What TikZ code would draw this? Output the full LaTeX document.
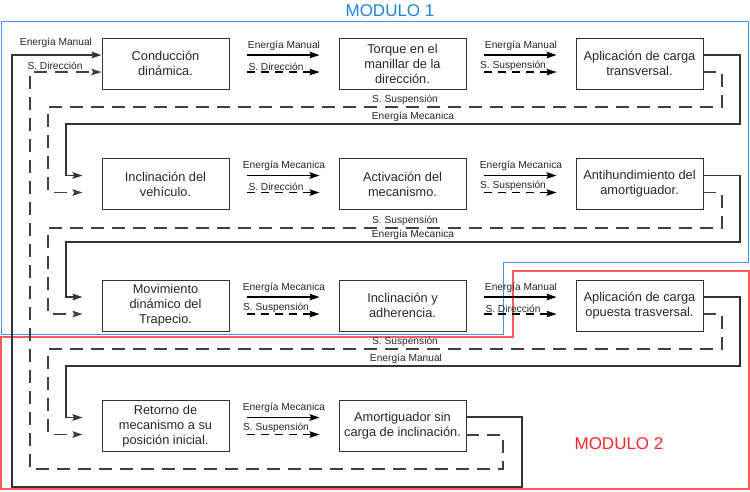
\documentclass[tikz,border=0pt]{standalone}
\usepackage{fontspec}
\setmainfont{Liberation Sans}
\usetikzlibrary{arrows.meta,calc}
\definecolor{azulmod}{RGB}{30,130,220}
\definecolor{azullinea}{RGB}{70,145,225}
\definecolor{rojomod}{RGB}{250,40,40}

\begin{document}
\begin{tikzpicture}[
		x=1pt,y=-1pt,
		>={Stealth[length=10pt,width=6.5pt,inset=1.5pt]},
		bloque/.style={
			draw=black!80,
			line width=0.9pt,
			minimum width=127pt,
			minimum height=51pt,
			inner sep=2pt,
			align=center,
			text=black!85,
			font=\fontsize{12.8}{15}\selectfont
		},
		flujo/.style={
			->,
			line width=1.4pt,
			shorten <=18pt,
			shorten >=19pt
		},
		senal/.style={
			flujo,
			line width=1.1pt,
			dash pattern=on 8pt off 6pt
		},
		lazo/.style={
			->,
			draw=black!80,
			line width=1.6pt
		},
		lazosenal/.style={
			->,
			draw=black!75,
			line width=1.2pt,
			dash pattern=on 13pt off 8pt
		},
		etiqueta/.style={
			font=\fontsize{10.2}{12}\selectfont,
			text=black!85,
			inner sep=1pt
		}
		]
		\useasboundingbox (0,0) rectangle (750,491);
		% modulos
		\draw[draw=azullinea,line width=1pt] (1,21) -- (748,21) -- (748,262) -- (503,262) -- (503,334) -- (1,334) -- cycle;
		\draw[draw=red!65,line width=1.2pt] (513,271) -- (749,271) -- (749,489) -- (1,489) -- (1,337) -- (513,337) -- cycle;
		\node[azulmod,font=\fontsize{17}{20}\selectfont] (mod1) at (390,11) {MODULO 1};
		\node[rojomod,font=\fontsize{17}{20}\selectfont] (mod2) at (619,444) {MODULO 2};
		% bloques
		\node[bloque] (b11) at (165.5,63.5) {Conducción\\dinámica.};
		\node[bloque] (b12) at (402.5,63.5) {Torque en el\\manillar de la\\dirección.};
		\node[bloque] (b13) at (639.5,63.5) {Aplicación de carga\\transversal.};
		\node[bloque] (b21) at (165.5,184) {Inclinación del\\vehículo.};
		\node[bloque] (b22) at (402.5,184) {Activación del\\mecanismo.};
		\node[bloque] (b23) at (639.5,184) {Antihundimiento del\\amortiguador.};
		\node[bloque] (b31) at (165.5,305.5) {Movimiento\\dinámico del\\Trapecio.};
		\node[bloque] (b32) at (402.5,305.5) {Inclinación y\\adherencia.};
		\node[bloque] (b33) at (639.5,305.5) {Aplicación de carga\\opuesta trasversal.};
		\node[bloque] (b41) at (165.5,426) {Retorno de\\mecanismo a su\\posición inicial.};
		\node[bloque] (b42) at (402.5,426) {Amortiguador sin\\carga de inclinación.};
		% flechas entre bloques
		\foreach \a/\b/\arriba/\abajo in {
			b11/b12/Energía Manual/S. Dirección,
			b12/b13/Energía Manual/S. Suspensión,
			b21/b22/Energía Mecanica/S. Dirección,
			b22/b23/Energía Mecanica/S. Suspensión,
			b31/b32/Energía Mecanica/S. Suspensión,
			b32/b33/Energía Manual/S. Dirección,
			b41/b42/Energía Mecanica/S. Suspensión}{
			\draw[flujo] ([yshift=8.5pt]\a.east) -- node[etiqueta,above=3pt] (e-\a) {\arriba} ([yshift=8.5pt]\b.west);
			\draw[senal] ([yshift=-8.5pt]\a.east) -- node[etiqueta,above=0pt,xshift=-8pt] (s-\a) {\abajo} ([yshift=-8.5pt]\b.west);
		}
		% retornos entre filas
		\draw[lazo,shorten >=19pt] ([yshift=8.5pt]b13.east) -| (740,124) -- (66,124) |- ([yshift=8.5pt]b21.west);
		\draw[lazosenal,shorten >=19pt] ([yshift=-8.5pt]b13.east) -| (722,107) -- (48,107) |- ([yshift=-8.5pt]b21.west);
		\draw[lazo,shorten >=19pt] ([yshift=8.5pt]b23.east) -| (740,242) -- (66,242) |- ([yshift=8.5pt]b31.west);
		\draw[lazosenal,shorten >=19pt] ([yshift=-8.5pt]b23.east) -| (722,228) -- (48,228) |- ([yshift=-8.5pt]b31.west);
		\draw[lazo,shorten >=19pt] ([yshift=8.5pt]b33.east) -| (740,366) -- (66,366) |- ([yshift=8.5pt]b41.west);
		\draw[lazosenal,shorten >=19pt] ([yshift=-8.5pt]b33.east) -| (722,349) -- (48,349) |- ([yshift=-8.5pt]b41.west);
		% retorno al inicio
		\draw[lazo] ([yshift=9pt]b42.east) -| (522,487) -- (12,487) |- ([yshift=8.5pt]b11.west);
		\draw[lazosenal] ([yshift=-9pt]b42.east) -| (503,469) -- (30,469) |- ([yshift=-8.5pt]b11.west);
		% etiquetas de retorno
		\node[etiqueta,anchor=south] (s1) at (405,106) {S. Suspensión};
		\node[etiqueta,anchor=south] (e1) at (413,123) {Energía Mecanica};
		\node[etiqueta,anchor=south] (s2) at (405,227) {S. Suspensión};
		\node[etiqueta,anchor=south] (e2) at (413,241) {Energía Mecanica};
		\node[etiqueta,anchor=south] (s3) at (405,348) {S. Suspensión};
		\node[etiqueta,anchor=south] (e3) at (406,365) {Energía Manual};
		\node[etiqueta,anchor=south] (e0) at (56,49) {Energía Manual};
		\node[etiqueta,anchor=south] (s0) at (55,71) {S. Dirección};
		\end{tikzpicture}
\end{document}
